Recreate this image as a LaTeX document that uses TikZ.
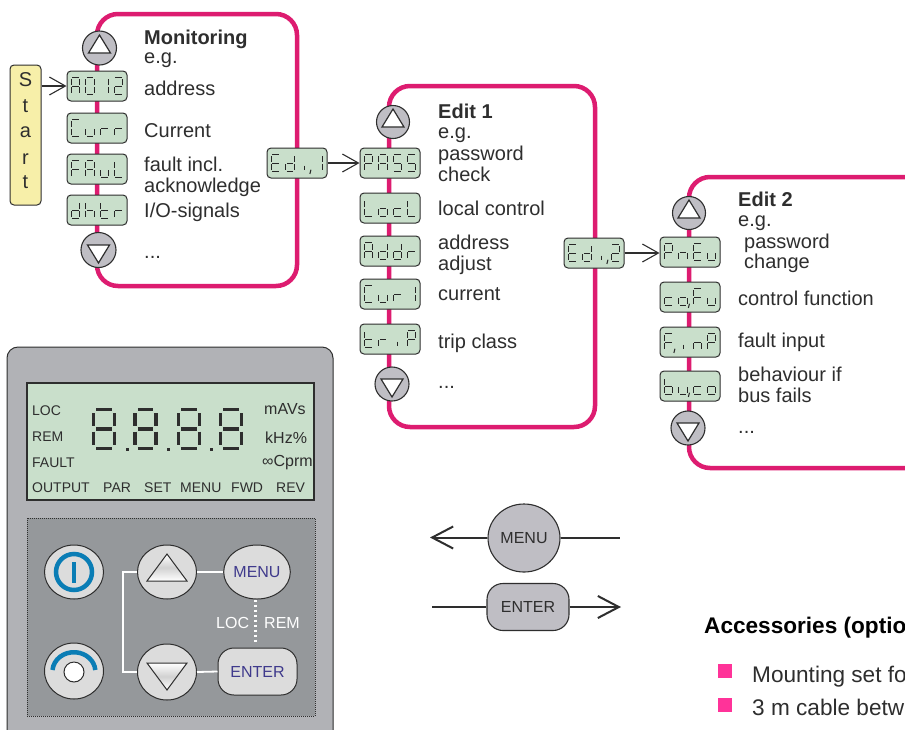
\documentclass[tikz,border=0pt]{standalone}
\usepackage{fontspec}
\setmainfont{Liberation Sans}
\usetikzlibrary{arrows.meta,shapes.geometric}
\definecolor{pinkf}{HTML}{DD1C70}
\definecolor{ink}{HTML}{2E2E2E}
\definecolor{lcd}{HTML}{C9DFCB}
\definecolor{btngrey}{HTML}{BFBEC4}
\definecolor{panel}{HTML}{B1B2B6}
\definecolor{pad}{HTML}{95989B}
\definecolor{keyf}{HTML}{DCDCDC}
\definecolor{blueb}{HTML}{0A7DB5}
\definecolor{purp}{HTML}{3F3A8C}
\definecolor{startc}{HTML}{F7EFA9}
\definecolor{bullet}{HTML}{FF3399}
\newcommand\fs[1]{\fontsize{#1}{#1}\selectfont}
\newcount\lblc
\newcommand\lbl[3]{\global\advance\lblc by 1
  \node[txt] (lbl\the\lblc) at (#1,#2) {#3};}
\newcommand\lcdt[3]{\global\advance\lblc by 1
  \node[txt,font=\fs{14}] (lbl\the\lblc) at (#1,#2) {#3};}
\newcommand\lcdu[3]{\global\advance\lblc by 1
  \node[txt,font=\fs{16}] (lbl\the\lblc) at (#1,#2) {#3};}
% seven-segment pieces, unit square
\def\sga{(-.72,-1) -- (.72,-1)}
\def\sgb{(1,-.82) -- (1,-.14)}
\def\sgc{(1,.14) -- (1,.82)}
\def\sgd{(-.72,1) -- (.72,1)}
\def\sge{(-1,.14) -- (-1,.82)}
\def\sgf{(-1,-.82) -- (-1,-.14)}
\def\sgg{(-.72,0) -- (.72,0)}
\def\sgk{(1.5,.8) -- (1.25,1.3)}
\def\sgi{(0,.3) -- (0,.85)}
\def\gA{a,b,c,e,f,g}
\def\gO{a,b,c,d,e,f}
\def\gI{b,c}
\def\gTwo{a,b,d,e,g}
\def\gC{a,d,e,f}
\def\gu{c,d,e}
\def\gr{e,g}
\def\gF{a,e,f,g}
\def\gL{d,e,f}
\def\gd{b,c,d,e,g}
\def\gh{c,e,f,g}
\def\gt{d,e,f,g}
\def\gE{a,d,e,f,g}
\def\gi{i}
\def\gik{i,k}
\def\gP{a,b,e,f,g}
\def\gS{a,c,d,f,g}
\def\go{c,d,e,g}
\def\goc{c,d,e,g,k}
\def\gc{d,e,g}
\def\gn{c,e,g}
\def\gFk{a,e,f,g,k}
\def\gb{c,d,e,f,g}
\def\gEight{a,b,c,d,e,f,g}
\def\guk{c,d,e,k}
\newcommand\glyph[5]{\begin{scope}[shift={(#1,#2)},x=#3pt,y=-#4pt]
  \foreach \s in #5 {\draw[segline] \csname sg\s\endcsname;}
\end{scope}}
\newcommand\dsp[7]{\node[dispbox] (#1) at (#2,#3) {};
  \glyph{#2-21.5}{#3}{4.3}{8.4}{#4}
  \glyph{#2-7}{#3}{4.3}{8.4}{#5}
  \glyph{#2+7.5}{#3}{4.3}{8.4}{#6}
  \glyph{#2+21.5}{#3}{4.3}{8.4}{#7}}
\newcommand\upbtn[4]{\node[roundbtn,minimum size=#4pt*2] (#1) at (#2,#3) {};
  \draw[tri] (#2,#3-13) -- (#2-11,#3+5) -- (#2+11,#3+5) -- cycle;}
\newcommand\dnbtn[4]{\node[roundbtn,minimum size=#4pt*2] (#1) at (#2,#3) {};
  \draw[tri] (#2,#3+13) -- (#2-11,#3-5) -- (#2+11,#3-5) -- cycle;}
\tikzset{
  txt/.style={anchor=base west,inner sep=0pt,text=ink,font=\fs{20}},
  frame/.style={draw=pinkf,line width=4.5pt,rounded corners=21pt},
  dispbox/.style={draw=ink,line width=1pt,fill=lcd,rounded corners=4pt,minimum width=60pt,minimum height=30pt,inner sep=0pt},
  segline/.style={draw=black!85,line width=1pt},
  roundbtn/.style={circle,draw=ink,line width=1.1pt,fill=btngrey,inner sep=0pt},
  tri/.style={draw=ink,line width=1.2pt,fill=white,line join=miter},
  arr/.style={draw=ink,line width=1.1pt,-{Straight Barb[length=16pt,width=18pt,line width=1.1pt]}},
  keyb/.style={ellipse,draw=ink,line width=1pt,fill=keyf,minimum width=59pt,minimum height=54pt,inner sep=0pt},
  keyr/.style={draw=ink,line width=1pt,fill=keyf,rounded corners=16pt,inner sep=0pt},
  wline/.style={draw=white,line width=1.8pt},
  bigline/.style={draw=ink,line width=2pt},
  bigarr/.style={bigline,-{Straight Barb[length=21pt,width=22pt,line width=2pt]}},
  keytri/.style={draw=ink,line width=1pt,top color=white,bottom color=white,middle color=black!18},
  bulletb/.style={fill=bullet,inner sep=0pt,minimum size=14pt,draw=none},
  start/.style={draw=ink,line width=1pt,fill=startc,rounded corners=4pt,minimum width=31pt,minimum height=140pt,inner sep=0pt},
}
\begin{document}
\begin{tikzpicture}[x=1pt,y=-1pt]
\useasboundingbox (0,0) rectangle (905,729);
\clip (0,0) rectangle (905,729);
\fill[white] (0,0) rectangle (905,729);
% frames
\draw[frame] (97,14) rectangle (297,286);
\draw[frame] (389,86) rectangle (595,427);
\draw[frame] (689,177) rectangle (960,468);
% Monitoring
\node[start] (start) at (25.5,135) {};
\foreach \c/\yy in {S/86,t/112,a/137,r/164,t/188}{\node[anchor=base,inner sep=0pt,text=ink,font=\fs{20}] (s\yy) at (25.5,\yy) {\c};}
\upbtn{mu}{99.5}{48}{17}
\dnbtn{md}{98.5}{250}{17.5}
\dsp{a012}{97}{86}{\gA}{\gO}{\gI}{\gTwo}
\dsp{curr}{97}{128}{\gC}{\gu}{\gr}{\gr}
\dsp{faul}{97}{169}{\gF}{\gA}{\gu}{\gL}
\dsp{dhtr}{97}{210}{\gd}{\gh}{\gt}{\gr}
\dsp{edi1}{297}{163}{\gE}{\gd}{\gik}{\gI}
\lbl{144}{44}{\textbf{Monitoring}}
\lbl{144}{63}{e.g.}
\lbl{144}{95}{address}
\lbl{144}{137}{Current}
\lbl{144}{171}{fault incl.}
\lbl{144}{192}{acknowledge}
\lbl{144}{217}{I/O-signals}
\lbl{144}{258}{...}
% Edit 1
\upbtn{e1u}{393}{122}{16.5}
\dnbtn{e1d}{392}{384}{17}
\dsp{pass}{390}{163}{\gP}{\gA}{\gS}{\gS}
\dsp{locl}{390}{208}{\gL}{\go}{\gc}{\gL}
\dsp{addr}{390}{251}{\gA}{\gd}{\gd}{\gr}
\dsp{curl}{390}{294}{\gC}{\gu}{\gr}{\gI}
\dsp{trip}{390}{339}{\gt}{\gr}{\gi}{\gP}
\dsp{edi2}{594}{253}{\gE}{\gd}{\gik}{\gTwo}
\lbl{438}{118}{\textbf{Edit 1}}
\lbl{438}{138}{e.g.}
\lbl{438}{160}{password}
\lbl{438}{181}{check}
\lbl{438}{215}{local control}
\lbl{438}{249}{address}
\lbl{438}{270}{adjust}
\lbl{438}{300}{current}
\lbl{438}{348}{trip class}
\lbl{438}{388}{...}
% Edit 2
\upbtn{e2u}{689}{213}{16.5}
\dnbtn{e2d}{688}{428}{17}
\dsp{pneu}{690}{252}{\gP}{\gn}{\gE}{\gu}
\dsp{cofu}{690}{297}{\gc}{\goc}{\gF}{\gu}
\dsp{finp}{690}{342}{\gFk}{\gi}{\gn}{\gP}
\dsp{buco}{690}{386}{\gb}{\guk}{\gc}{\go}
\lbl{738}{206}{\textbf{Edit 2}}
\lbl{738}{226}{e.g.}
\lbl{744}{248}{password}
\lbl{744}{268}{change}
\lbl{738}{305}{control function}
\lbl{738}{347}{fault input}
\lbl{738}{381}{behaviour if}
\lbl{738}{402}{bus fails}
\lbl{738}{433}{...}
% arrows between displays
\draw[arr] (start.east |- a012.west) -- (a012.west);
\draw[arr] (edi1.east) -- (pass.west |- edi1.east);
\draw[arr] (edi2.east) -- (pneu.west |- edi2.east);
% panel
\draw[draw=ink,line width=1pt,fill=panel,rounded corners=11pt] (7,347) rectangle (333,745);
\draw[draw=ink,line width=1.2pt,fill=lcd] (27,383) rectangle (314,500);
\lcdt{32}{415}{LOC}
\lcdt{32}{441}{REM}
\lcdt{32}{467}{FAULT}
\lcdt{32}{492}{OUTPUT}
\lcdt{103}{492}{PAR}
\lcdt{144}{492}{SET}
\lcdt{180}{492}{MENU}
\lcdt{231}{492}{FWD}
\lcdt{276}{492}{REV}
\lcdu{264}{414}{mAVs}
\lcdu{265}{443}{kHz\%}
\lcdu{262}{466}{∞Cprm}
\tikzset{segline/.style={draw=ink,line width=3.4pt}}
\glyph{104}{429}{10.5}{19.5}{\gEight}
\glyph{145.5}{429}{10.5}{19.5}{\gEight}
\glyph{189}{429}{10.5}{19.5}{\gEight}
\glyph{231}{429}{10.5}{19.5}{\gEight}
\fill[ink] (125.5,447.5) rectangle (128.5,450.5);
\fill[ink] (166.5,447.5) rectangle (169.5,450.5);
\fill[ink] (209.5,447.5) rectangle (212.5,450.5);
% keypad
\draw[draw=ink,line width=1pt,densely dotted,fill=pad] (27,518) rectangle (315,716);
\node[keyb] (pwr) at (74,572) {};
\node[keyb,minimum height=56pt] (stp) at (74,671) {};
\node[keyb] (kup) at (167,572) {};
\node[keyb,minimum height=56pt] (kdn) at (167,672) {};
\node[keyb,text=purp,font=\fs{16}] (kmenu) at (257,572) {MENU};
\node[keyr,minimum width=79pt,minimum height=47pt,text=purp,font=\fs{16}] (kenter) at (257.5,671.5) {ENTER};
\coordinate (kc) at (123,572);
\coordinate (kd) at (123,672);
\coordinate (dotend) at (255,643);
\draw[wline] (kup.west) -- (kc) -- (kd) -- (kdn.west);
\draw[wline] (kup.east) -- (kmenu.west);
\draw[wline] (kdn.east) -- (kenter.west);
\draw[draw=white,line width=3pt,dash pattern=on 2.5pt off 2.5pt] (kmenu.south -| dotend) -- (dotend);
\global\advance\lblc by 1
\node[txt,text=white,font=\fs{16}] (lbl\the\lblc) at (216,628) {LOC};
\global\advance\lblc by 1
\node[txt,text=white,font=\fs{16}] (lbl\the\lblc) at (264,628) {REM};
\draw[keytri] (167,554) -- (147,581) -- (187,581) -- cycle;
\draw[keytri] (167,690) -- (147,663) -- (187,663) -- cycle;
\draw[blueb,line width=4.5pt] (74,572) circle (18);
\draw[blueb,line width=3.5pt] (74,562) -- (74,583);
\draw[blueb,line width=4.5pt] (52.5,670) arc[start angle=175,end angle=5,x radius=21.5,y radius=-19.5];
\node[circle,draw=ink,line width=1pt,fill=white,minimum size=20pt,inner sep=0pt] (stpc) at (74,672) {};
% menu / enter key legend
\node[ellipse,draw=ink,line width=1.1pt,fill=btngrey,minimum width=72pt,minimum height=68pt,inner sep=0pt,text=ink,font=\fs{16}] (lmenu) at (524,538) {\raisebox{-3pt}{MENU}};
\node[draw=ink,line width=1.1pt,fill=btngrey,rounded corners=16pt,minimum width=82pt,minimum height=47pt,inner sep=0pt,text=ink,font=\fs{16}] (lenter) at (528,607) {ENTER};
\coordinate (ml) at (430,537.5);
\coordinate (mr) at (620,537.5);
\coordinate (el) at (432,607);
\coordinate (er) at (621,607);
\draw[bigarr] (lmenu.west |- ml) -- (ml);
\draw[bigline] (lmenu.east |- mr) -- (mr);
\draw[bigline] (el) -- (lenter.west |- el);
\draw[bigarr] (lenter.east |- er) -- (er);
% accessories
\global\advance\lblc by 1
\node[txt,text=black,font=\fs{22.6}] (lbl\the\lblc) at (704,633) {\textbf{Accessories (optio}};
\node[bulletb] (b1) at (725,671) {};
\node[bulletb] (b2) at (725,705) {};
\global\advance\lblc by 1
\node[txt,font=\fs{22.6}] (lbl\the\lblc) at (752,682) {Mounting set fo};
\global\advance\lblc by 1
\node[txt,font=\fs{22.6}] (lbl\the\lblc) at (752,715) {3 m cable betw};
\end{tikzpicture}
\end{document}
